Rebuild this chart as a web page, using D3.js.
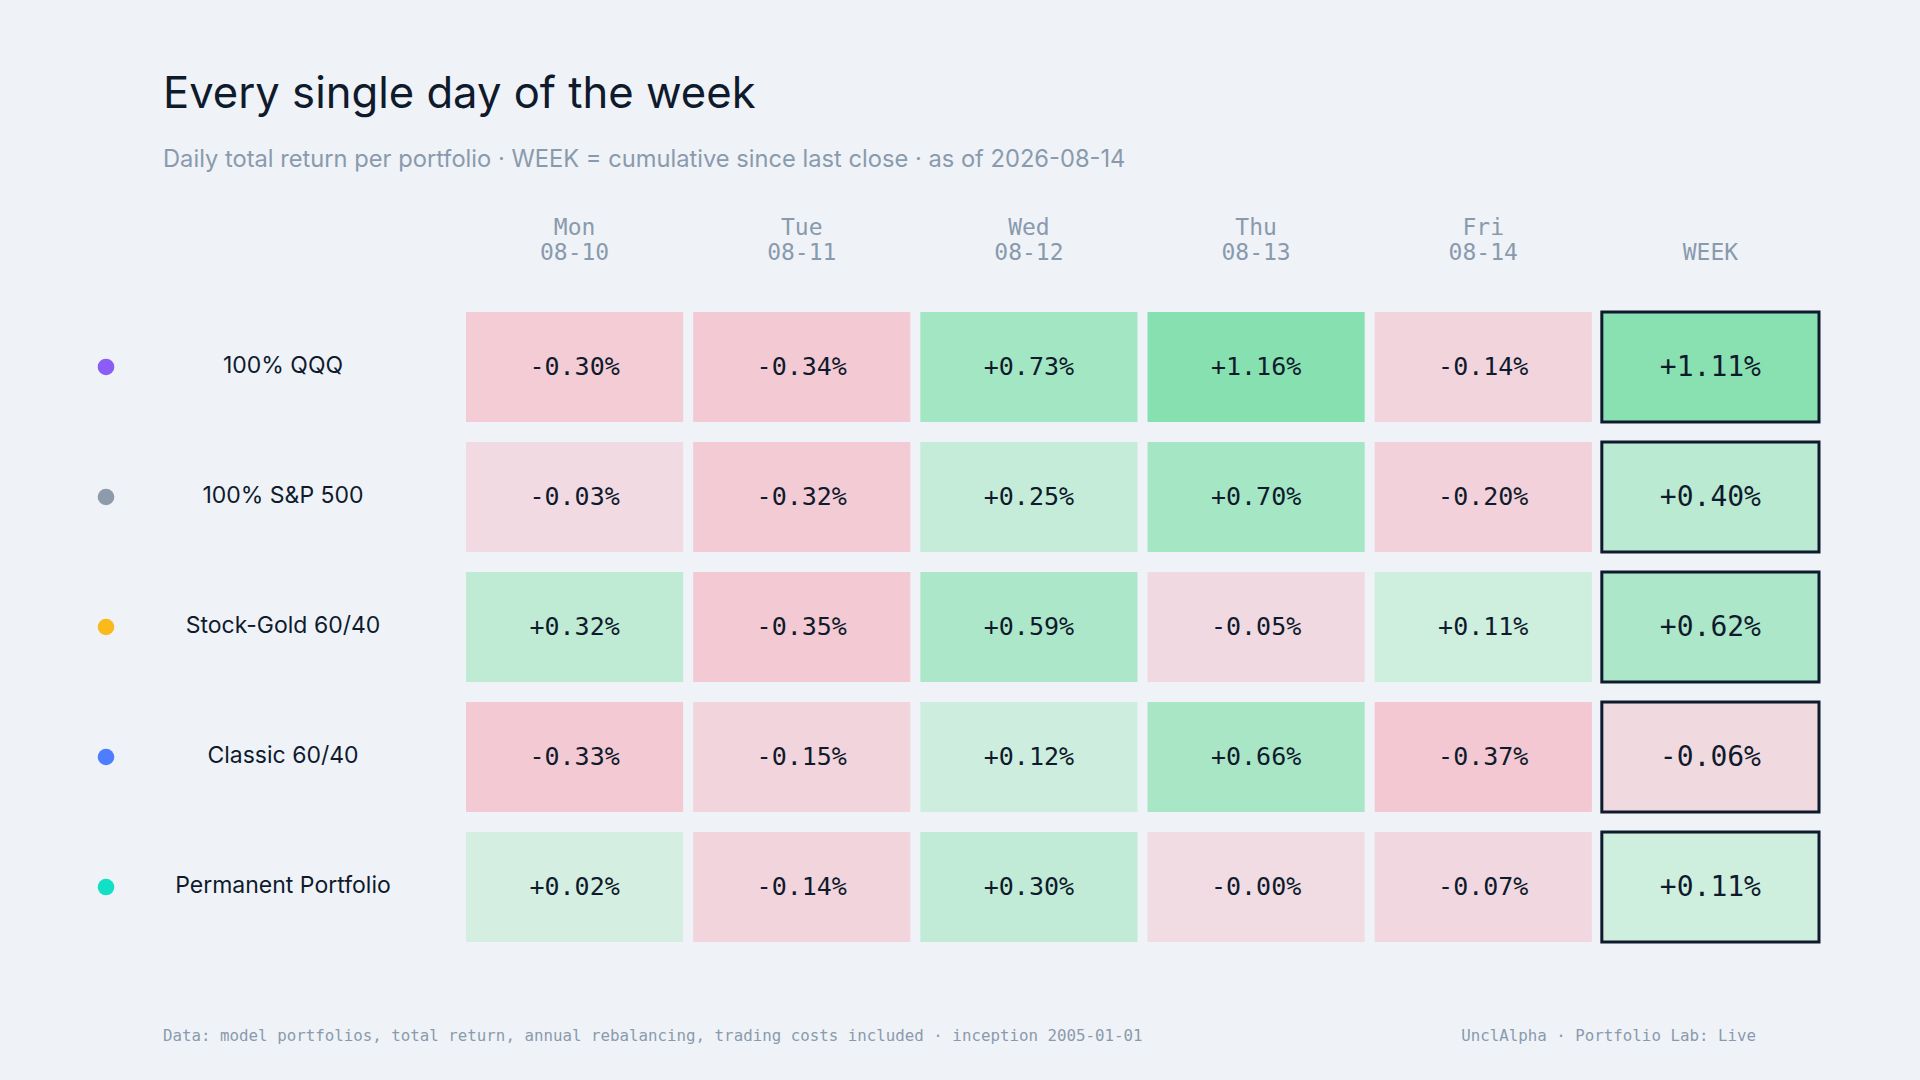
<!DOCTYPE html>
<html>
<head>
<meta charset="utf-8">
<script src="https://cdn.jsdelivr.net/npm/d3@7"></script>
<style>
  html, body { margin: 0; padding: 0; background: #eff3f8; }
  svg { display: block; }
</style>
</head>
<body>
<div id="chart"></div>
<script>
// data
const portfolios = ["100% QQQ", "100% S&P 500", "Stock-Gold 60/40", "Classic 60/40", "Permanent Portfolio"];
const dotColors = ["#8b5cf6", "#8c9aab", "#fbb91c", "#4f7dff", "#0fe0c6"];
const days = ["Mon", "Tue", "Wed", "Thu", "Fri", "WEEK"];
const dates = ["08-10", "08-11", "08-12", "08-13", "08-14", ""];

const returnsQQQ = [-0.30, -0.34, 0.73, 1.16, -0.14, 1.11];
const returnsSP = [-0.03, -0.32, 0.25, 0.70, -0.20, 0.40];
const returnsStockGold = [0.32, -0.35, 0.59, -0.05, 0.11, 0.62];
const returnsClassic = [-0.33, -0.15, 0.12, 0.66, -0.37, -0.06];
const returnsPermanent = [0.02, -0.14, 0.30, -0.001, -0.07, 0.11];

const allReturns = [returnsQQQ, returnsSP, returnsStockGold, returnsClassic, returnsPermanent];

const width = 1920, height = 1080;
const bg = "#eff3f8";
const ink = "#0f1b2d";
const muted = "#8a9aad";
const mono = "'DejaVu Sans Mono', 'Liberation Mono', monospace";
const sans = "Inter, 'Noto Sans', sans-serif";

const svg = d3.select("#chart")
  .append("svg")
  .attr("width", width)
  .attr("height", height)
  .attr("viewBox", `0 0 ${width} ${height}`);

svg.append("rect").attr("width", width).attr("height", height).attr("fill", bg);

// title + subtitle
svg.append("text")
  .attr("x", 163).attr("y", 108)
  .attr("font-family", sans).attr("font-size", 43.6).attr("fill", ink)
  .text("Every single day of the week");

svg.append("text")
  .attr("x", 163).attr("y", 167)
  .attr("font-family", sans).attr("font-size", 23.7).attr("fill", muted)
  .text("Daily total return per portfolio · WEEK = cumulative since last close · as of 2026-08-14");

// scales
const x = d3.scaleBand()
  .domain(days)
  .range([466, 1819])
  .paddingInner(0.044);

const y = d3.scaleBand()
  .domain(portfolios)
  .range([312, 942])
  .paddingInner(0.154);

const posColor = d3.scaleLinear().domain([0, 1.16]).range(["#d5efe3", "#86e0b0"]).clamp(true);
const negColor = d3.scaleLinear().domain([0, -0.37]).range(["#f1dce3", "#f3c8d2"]).clamp(true);
const cellColor = v => v < 0 ? negColor(v) : posColor(v);
const fmt = v => (v < 0 ? "-" : "+") + Math.abs(v).toFixed(2) + "%";

// column headers
const head = svg.append("g");
head.selectAll("text.day")
  .data(days)
  .join("text")
  .attr("class", "day")
  .attr("x", d => x(d) + x.bandwidth() / 2)
  .attr("y", (d, i) => dates[i] ? 235 : 260)
  .attr("text-anchor", "middle")
  .attr("font-family", mono).attr("font-size", 23).attr("fill", muted)
  .text(d => d);

head.selectAll("text.date")
  .data(days)
  .join("text")
  .attr("class", "date")
  .attr("x", d => x(d) + x.bandwidth() / 2)
  .attr("y", 260)
  .attr("text-anchor", "middle")
  .attr("font-family", mono).attr("font-size", 23).attr("fill", muted)
  .text((d, i) => dates[i]);

// rows
const rows = svg.append("g")
  .selectAll("g.row")
  .data(portfolios)
  .join("g")
  .attr("class", "row")
  .attr("transform", d => `translate(0, ${y(d)})`);

rows.append("circle")
  .attr("cx", 106)
  .attr("cy", y.bandwidth() / 2)
  .attr("r", 8.3)
  .attr("fill", (d, i) => dotColors[i]);

rows.append("text")
  .attr("x", 283)
  .attr("y", y.bandwidth() / 2 + 6)
  .attr("text-anchor", "middle")
  .attr("font-family", sans).attr("font-size", 23).attr("fill", ink)
  .text(d => d);

const cells = rows.selectAll("g.cell")
  .data((d, i) => allReturns[i].map((v, j) => ({ day: days[j], v })))
  .join("g")
  .attr("class", "cell");

cells.append("rect")
  .attr("x", d => x(d.day))
  .attr("y", 0)
  .attr("width", x.bandwidth())
  .attr("height", y.bandwidth())
  .attr("fill", d => cellColor(d.v))
  .attr("stroke", d => d.day === "WEEK" ? ink : "none")
  .attr("stroke-width", 3);

cells.append("text")
  .attr("x", d => x(d.day) + x.bandwidth() / 2)
  .attr("y", d => y.bandwidth() / 2 + (d.day === "WEEK" ? 9 : 7.8))
  .attr("text-anchor", "middle")
  .attr("font-family", mono)
  .attr("font-size", d => d.day === "WEEK" ? 28 : 25)
  .attr("fill", ink)
  .text(d => fmt(d.v));

// footer
svg.append("text")
  .attr("x", 163).attr("y", 1041)
  .attr("font-family", mono).attr("font-size", 15.8).attr("fill", muted)
  .text("Data: model portfolios, total return, annual rebalancing, trading costs included · inception 2005-01-01");

svg.append("text")
  .attr("x", 1756).attr("y", 1041)
  .attr("text-anchor", "end")
  .attr("font-family", mono).attr("font-size", 15.8).attr("fill", muted)
  .text("UnclAlpha · Portfolio Lab: Live");
</script>
</body>
</html>
